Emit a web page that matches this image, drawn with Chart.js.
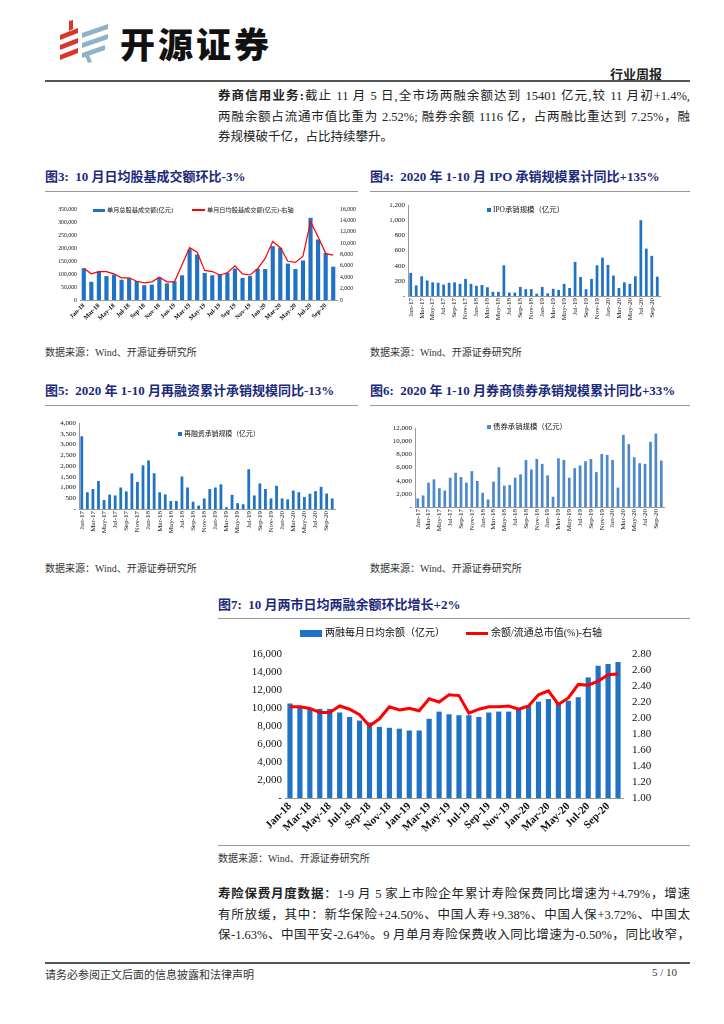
<!DOCTYPE html>
<html>
<head>
<meta charset="utf-8">
<script src="https://cdn.jsdelivr.net/npm/chart.js@4.4.0/dist/chart.umd.min.js"></script>
<style>
body { margin: 0; width: 724px; height: 1024px; position: relative; background: #fff;
       font-family: 'Liberation Serif', 'Noto Sans CJK SC', serif; color: #222; overflow: hidden; }
.rule { position: absolute; height: 0; border-top: 2px solid #555; }
.thin { border-top: 1.5px solid #999; }
.title { position: absolute; font-weight: bold; color: #1c2a7a; font-size: 13px; white-space: nowrap; }
.src { position: absolute; font-size: 10px; color: #333; white-space: nowrap; }
.para { position: absolute; left: 218px; width: 472px; font-size: 12.5px; line-height: 20.5px; }
.para div { text-align: justify; text-align-last: justify; white-space: nowrap; }
.para div.last { text-align-last: left; }
.box { position: absolute; }
.lg { position: absolute; font-family: 'Liberation Serif', 'Noto Sans CJK SC', serif; color: #111; white-space: nowrap; line-height: 1; }
.lg i { display: inline-block; vertical-align: middle; margin-right: 2px; position: relative; top: -0.5px; }
.sq { background: #1f72c4; }
.ln { background: #ff0000; }
</style>
</head>
<body>

<svg style="position:absolute;left:58px;top:20px" width="52" height="44" viewBox="0 0 52 44">
  <g fill="#d9362b">
    <polygon points="11,1 15,0 15,9 11,11"/>
    <polygon points="2,15 20,8 20,13 2,20"/>
    <polygon points="2,25 20,18 20,23 2,30"/>
    <polygon points="2,35 20,28 20,33 2,40"/>
  </g>
  <g fill="#8fb3c6">
    <polygon points="24,13 50,4 50,9 24,18"/>
    <polygon points="24,23 50,14 50,19 24,28"/>
    <polygon points="24,33 47,25 47,30 24,38"/>
    <polygon points="27,36 31,35 34,42 30,43"/>
  </g>
</svg>
<div style="position:absolute;left:120px;top:25px;font-family:'Noto Sans CJK SC';font-weight:900;font-size:35px;line-height:35px;letter-spacing:3px;color:#111;">开源证券</div>
<div style="position:absolute;left:610px;top:64px;font-weight:bold;font-size:13px;font-family:'Noto Sans CJK SC';">行业周报</div>
<div class="rule" style="left:45px;top:80px;width:645px;"></div>

<div class="para" style="top:86px;">
  <div><b>券商信用业务:</b>截止 11 月 5 日,全市场两融余额达到 15401 亿元,较 11 月初+1.4%,</div>
  <div>两融余额占流通市值比重为 2.52%; 融券余额 1116 亿，占两融比重达到 7.25%，融</div>
  <div class="last">券规模破千亿，占比持续攀升。</div>
</div>

<div class="title" style="left:45px;top:166px;">图3:&nbsp; 10 月日均股基成交额环比-3%</div>
<div class="title" style="left:370px;top:166px;">图4:&nbsp; 2020 年 1-10 月 IPO 承销规模累计同比+135%</div>
<div class="rule thin" style="left:45px;top:191px;width:313px;"></div>
<div class="rule thin" style="left:370px;top:191px;width:320px;"></div>

<div class="box" style="left:45px;top:198px;width:315px;height:138px;"><canvas id="c3"></canvas></div>
<div class="box" style="left:365px;top:196px;width:325px;height:138px;"><canvas id="c4"></canvas></div>

<div class="lg" style="left:93px;top:207px;font-size:6.2px;"><i class="sq" style="width:12px;height:3px;"></i>单月总股基成交额(亿元)</div>
<div class="lg" style="left:192px;top:207px;font-size:6.2px;"><i class="ln" style="width:13px;height:1.2px;"></i>单月日均股基成交额(亿元)-右轴</div>
<div class="lg" style="left:487px;top:206px;font-size:7.4px;"><i class="sq" style="width:4px;height:4px;"></i>IPO承销规模（亿元）</div>

<div class="src" style="left:45px;top:344px;">数据来源：Wind、开源证券研究所</div>
<div class="src" style="left:370px;top:344px;">数据来源：Wind、开源证券研究所</div>

<div class="title" style="left:45px;top:380px;">图5:&nbsp; 2020 年 1-10 月再融资累计承销规模同比-13%</div>
<div class="title" style="left:370px;top:380px;">图6:&nbsp; 2020 年 1-10 月券商债券承销规模累计同比+33%</div>
<div class="rule thin" style="left:45px;top:405px;width:313px;"></div>
<div class="rule thin" style="left:370px;top:405px;width:320px;"></div>

<div class="box" style="left:45px;top:410px;width:315px;height:137px;"><canvas id="c5"></canvas></div>
<div class="box" style="left:365px;top:410px;width:325px;height:135px;"><canvas id="c6"></canvas></div>

<div class="lg" style="left:178px;top:431px;font-size:6.9px;"><i class="sq" style="width:4px;height:4px;"></i>再融资承销规模（亿元）</div>
<div class="lg" style="left:487px;top:423px;font-size:7.4px;"><i class="sq" style="width:4px;height:4px;background:#4d88cc;"></i>债券承销规模（亿元）</div>

<div class="src" style="left:45px;top:560px;">数据来源：Wind、开源证券研究所</div>
<div class="src" style="left:370px;top:560px;">数据来源：Wind、开源证券研究所</div>

<div class="title" style="left:218px;top:594px;">图7:&nbsp; 10 月两市日均两融余额环比增长+2%</div>
<div class="rule thin" style="left:218px;top:618px;width:472px;"></div>

<div class="box" style="left:218px;top:622px;width:472px;height:216px;"><canvas id="c7"></canvas></div>
<div class="lg" style="left:300px;top:628px;font-size:10px;"><i class="sq" style="width:22px;height:7px;margin-right:3px;"></i>两融每月日均余额（亿元）</div>
<div class="lg" style="left:466px;top:628px;font-size:10px;"><i class="ln" style="width:22px;height:3px;margin-right:3px;"></i>余额/流通总市值(%)-右轴</div>

<div class="rule thin" style="left:218px;top:845px;width:472px;"></div>
<div class="src" style="left:218px;top:850px;">数据来源：Wind、开源证券研究所</div>

<div class="para" style="top:884px;">
  <div><b>寿险保费月度数据</b>：1-9 月 5 家上市险企年累计寿险保费同比增速为+4.79%，增速</div>
  <div>有所放缓，其中：新华保险+24.50%、中国人寿+9.38%、中国人保+3.72%、中国太</div>
  <div>保-1.63%、中国平安-2.64%。9 月单月寿险保费收入同比增速为-0.50%，同比收窄，</div>
</div>

<div class="rule" style="left:45px;top:962px;width:645px;"></div>
<div class="src" style="left:45px;top:966px;font-size:11px;">请务必参阅正文后面的信息披露和法律声明</div>
<div class="src" style="left:652px;top:966px;font-size:11px;">5 / 10</div>

<script>
// 月份
const months = ['Jan-17','Feb-17','Mar-17','Apr-17','May-17','Jun-17','Jul-17','Aug-17','Sep-17','Oct-17','Nov-17','Dec-17',
  'Jan-18','Feb-18','Mar-18','Apr-18','May-18','Jun-18','Jul-18','Aug-18','Sep-18','Oct-18','Nov-18','Dec-18',
  'Jan-19','Feb-19','Mar-19','Apr-19','May-19','Jun-19','Jul-19','Aug-19','Sep-19','Oct-19','Nov-19','Dec-19',
  'Jan-20','Feb-20','Mar-20','Apr-20','May-20','Jun-20','Jul-20','Aug-20','Sep-20','Oct-20'];
const months18 = months.slice(12);

// 图3
const turnoverTotal = [122000,70000,110000,92000,98000,78000,84000,73000,57000,59000,87000,64000,
  72000,95000,195000,175000,104000,95000,100000,105000,121000,85000,92000,120000,
  119000,207000,201000,140000,119000,152000,316000,233000,180000,128000];
const turnoverDaily = [5600,4600,5000,5000,4600,3900,3900,3300,3000,3200,4000,3200,
  3200,6200,9200,8400,5200,5000,4400,4800,6000,4600,4400,5500,
  7300,10300,9200,6800,6600,7700,13800,11100,8200,7900];

// 图4
const ipoScale = [305,140,260,205,180,175,150,175,180,160,225,160,
  135,145,115,55,55,405,45,45,120,90,90,30,
  120,35,95,80,160,105,450,250,90,225,405,505,
  410,270,105,180,160,260,1000,625,530,255];

// 图5
const refinScale = [3380,780,930,1300,420,670,630,1000,820,1660,1260,2030,
  2260,1660,780,680,370,370,1510,1000,340,160,490,930,
  1000,1150,80,660,270,220,1850,630,1190,930,490,1080,
  490,450,860,780,560,710,830,1030,720,490];

// 图6
const bondScale = [1300,1750,3700,4200,2850,2500,4450,5200,4550,3700,5450,3950,
  2150,1150,3850,6050,3250,3350,4450,4950,7150,5700,7300,6550,
  4800,1550,7400,7150,4450,5900,6300,6950,7300,5300,8050,7900,
  7150,2950,10950,9550,7550,6650,6550,9900,11150,7050];

// 图7
const marginBalance = [10500,10200,10000,9900,9900,9500,9000,8600,8400,7900,7800,7700,
  7500,7500,8800,9600,9300,9200,9200,9000,9500,9600,9600,10000,
  10300,10700,11000,10600,10800,11200,13400,14700,14900,15100];
const marginRatio = [2.14,2.14,2.12,2.07,2.07,2.15,2.11,2.04,1.90,1.99,2.14,2.10,
  2.12,2.09,2.24,2.20,2.29,2.28,2.06,2.11,2.14,2.14,2.15,2.11,
  2.15,2.29,2.34,2.17,2.25,2.42,2.41,2.46,2.54,2.55];

const BLUE = '#1f72c4';
const RED = '#ff0000';
const SERIF = "'Liberation Serif', 'Noto Sans CJK SC', serif";

function numFmt(dash) {
    return function (v) {
        if (v === 0 && dash) return '-';
        return v.toLocaleString('en-US');
    };
}

// 固定轴尺寸，让绘图区落在原图的位置
function xAxis(size, rot, h, bold) {
    return {
        grid: { display: false, drawTicks: false },
        border: { color: '#999' },
        afterFit: function (s) { s.height = h; },
        ticks: {
            autoSkip: false, minRotation: rot, maxRotation: rot, padding: 2,
            color: '#111', font: { family: SERIF, size: size, weight: bold ? 'bold' : 'normal' },
            callback: function (v, i) { return i % 2 === 0 ? this.getLabelForValue(v) : ''; }
        }
    };
}

function yAxis(size, max, step, dash, w, pos) {
    return {
        position: pos || 'left', min: 0, max: max,
        grid: { display: false, drawTicks: false },
        border: { color: '#999' },
        afterFit: function (s) { s.width = w; },
        ticks: { autoSkip: false, stepSize: step, padding: 3, color: '#111',
                 font: { family: SERIF, size: size }, callback: numFmt(dash) }
    };
}

Chart.defaults.animation = false;
Chart.defaults.maintainAspectRatio = false;
Chart.defaults.plugins.legend.display = false;
Chart.defaults.plugins.tooltip.enabled = false;

// 图3
new Chart(document.getElementById('c3'), {
    type: 'bar',
    data: {
        labels: months18,
        datasets: [
            { label: '单月日均股基成交额(亿元)-右轴', type: 'line', data: turnoverDaily, yAxisID: 'y2',
              borderColor: RED, borderWidth: 1.2, pointRadius: 0, order: 0 },
            { label: '单月总股基成交额(亿元)', data: turnoverTotal, backgroundColor: BLUE,
              barPercentage: 0.55, categoryPercentage: 1, order: 1 }
        ]
    },
    options: {
        layout: { padding: { left: 0, right: 0, top: 11, bottom: 0 } },
        scales: {
            x: xAxis(6.3, 45, 36, true),
            y: Object.assign(yAxis(5.8, 350000, 50000, false, 35), { border: { display: false } }),
            y2: Object.assign(yAxis(5.8, 16000, 2000, false, 23, 'right'), { border: { display: false } })
        }
    }
});

// 图4
new Chart(document.getElementById('c4'), {
    type: 'bar',
    data: {
        labels: months,
        datasets: [{ label: 'IPO承销规模（亿元）', data: ipoScale, backgroundColor: BLUE,
                     barPercentage: 0.5, categoryPercentage: 1 }]
    },
    options: {
        layout: { padding: { left: 0, right: 30, top: 9, bottom: 0 } },
        scales: { x: xAxis(7, 90, 38), y: yAxis(7, 1200, 200, true, 43) }
    }
});

// 图5
new Chart(document.getElementById('c5'), {
    type: 'bar',
    data: {
        labels: months,
        datasets: [{ label: '再融资承销规模（亿元）', data: refinScale, backgroundColor: BLUE,
                     barPercentage: 0.5, categoryPercentage: 1 }]
    },
    options: {
        layout: { padding: { left: 0, right: 25, top: 13, bottom: 0 } },
        scales: { x: xAxis(7, 90, 38), y: yAxis(7, 4000, 500, true, 34) }
    }
});

// 图6
new Chart(document.getElementById('c6'), {
    type: 'bar',
    data: {
        labels: months,
        datasets: [{ label: '债券承销规模（亿元）', data: bondScale, backgroundColor: '#4d88cc',
                     barPercentage: 0.5, categoryPercentage: 1 }]
    },
    options: {
        layout: { padding: { left: 0, right: 26, top: 18, bottom: 0 } },
        scales: { x: xAxis(7, 90, 38), y: yAxis(7, 12000, 2000, true, 50) }
    }
});

// 图7
new Chart(document.getElementById('c7'), {
    type: 'bar',
    data: {
        labels: months18,
        datasets: [
            { label: '余额/流通总市值(%)-右轴', type: 'line', data: marginRatio, yAxisID: 'y2',
              borderColor: RED, borderWidth: 3, pointRadius: 0, order: 0 },
            { label: '两融每月日均余额（亿元）', data: marginBalance, backgroundColor: BLUE,
              barPercentage: 0.52, categoryPercentage: 1, order: 1 }
        ]
    },
    options: {
        layout: { padding: { left: 0, right: 0, top: 32, bottom: 0 } },
        scales: {
            x: xAxis(11, 45, 40, true),
            y: Object.assign(yAxis(11, 16000, 2000, true, 67), { border: { display: false } }),
            y2: {
                position: 'right', min: 1, max: 2.8,
                grid: { display: false, drawTicks: false }, border: { display: false },
                afterFit: function (s) { s.width = 67; },
                ticks: { autoSkip: false, stepSize: 0.2, padding: 9, color: '#111', font: { family: SERIF, size: 11 },
                         callback: function (v) { return v.toFixed(2); } }
            }
        }
    }
});
</script>
</body>
</html>
